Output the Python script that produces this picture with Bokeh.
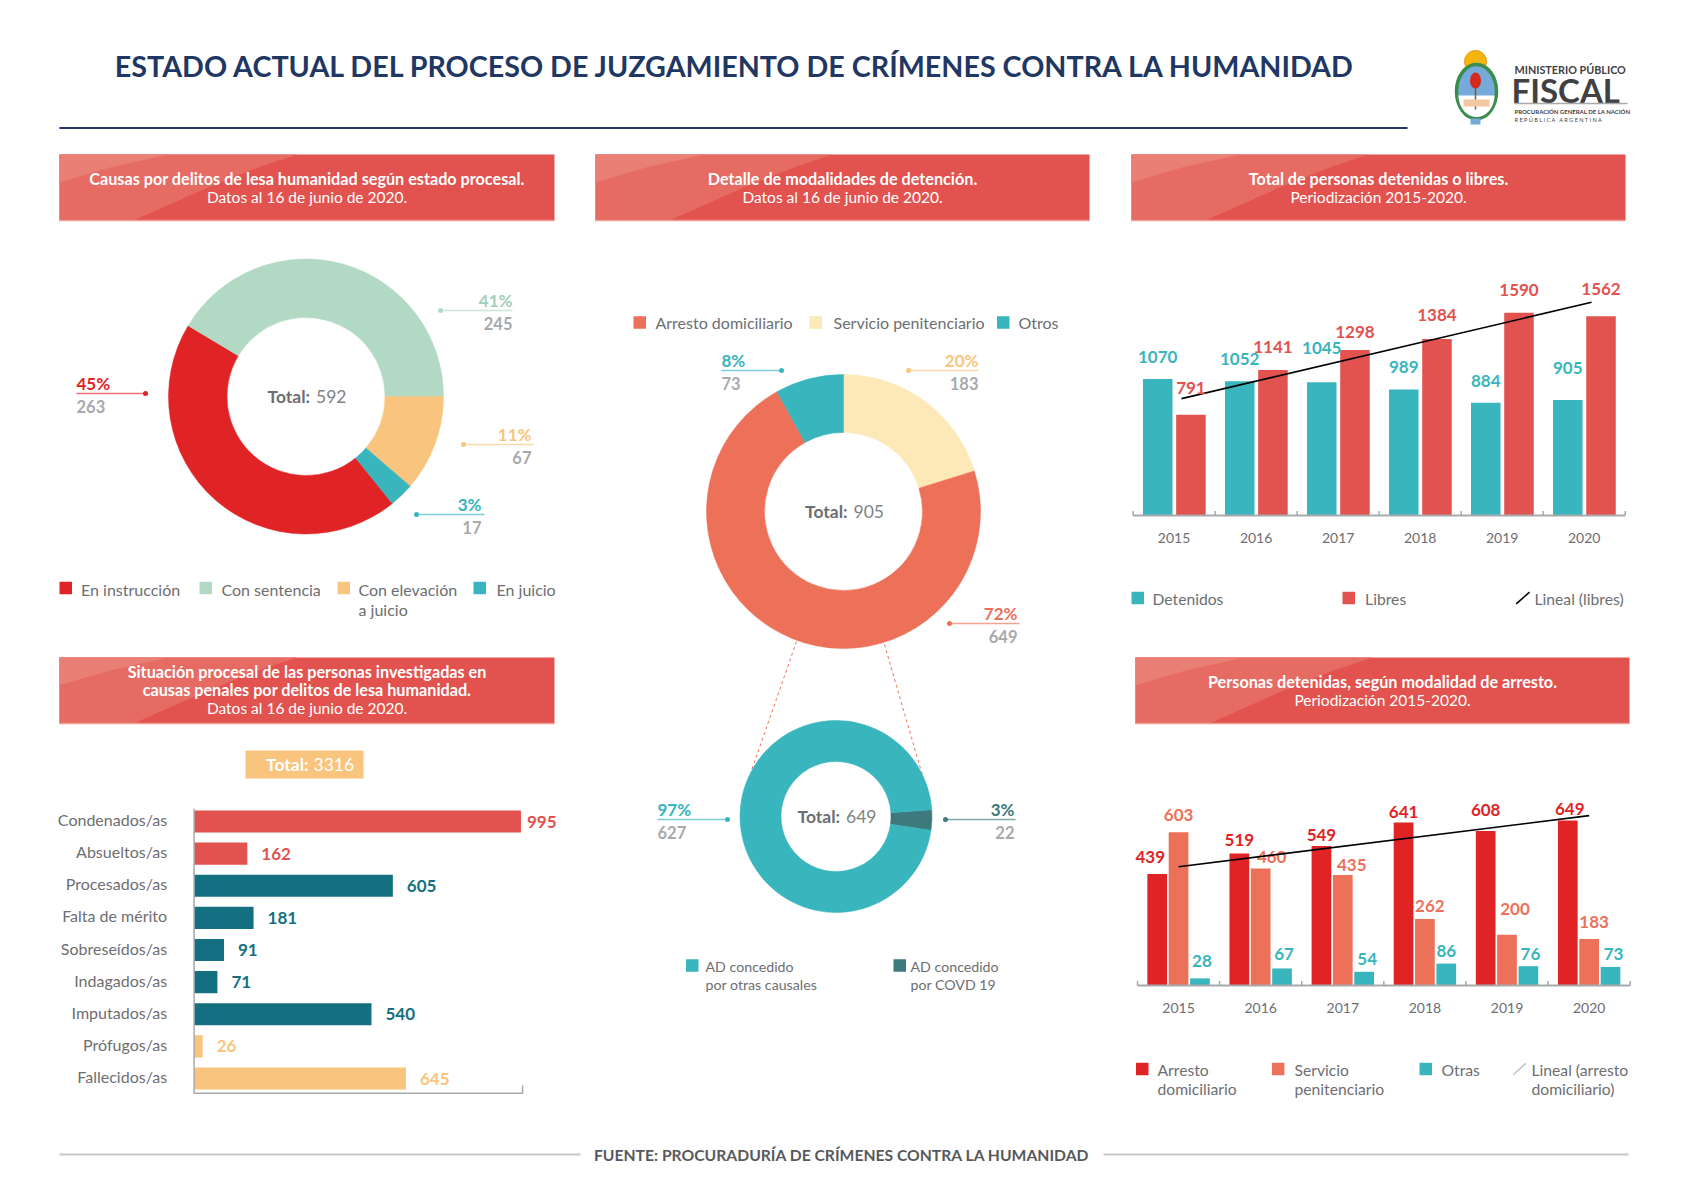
import numpy as np
from bokeh.plotting import figure
from bokeh.models import Range1d
from bokeh.core.properties import value
from bokeh.embed import file_html
from bokeh.resources import INLINE

# ------------------------------------------------------------------ data
title_text = "ESTADO ACTUAL DEL PROCESO DE JUZGAMIENTO DE CRÍMENES CONTRA LA HUMANIDAD"
source_text = "FUENTE: PROCURADURÍA DE CRÍMENES CONTRA LA HUMANIDAD"

causas_labels = ["En instrucción", "Con sentencia", "Con elevación\na juicio", "En juicio"]
causas_values = [263, 245, 67, 17]
causas_pct = ["45%", "41%", "11%", "3%"]

detencion_labels = ["Arresto domiciliario", "Servicio penitenciario", "Otros"]
detencion_values = [649, 183, 73]
detencion_pct = ["72%", "20%", "8%"]

ad_labels = ["AD concedido\npor otras causales", "AD concedido\npor COVD 19"]
ad_values = [627, 22]
ad_pct = ["97%", "3%"]

situacion_labels = ["Condenados/as", "Absueltos/as", "Procesados/as", "Falta de mérito",
                    "Sobreseídos/as", "Indagados/as", "Imputados/as", "Prófugos/as",
                    "Fallecidos/as"]
situacion_values = [995, 162, 605, 181, 91, 71, 540, 26, 645]

years = ["2015", "2016", "2017", "2018", "2019", "2020"]
detenidos = [1070, 1052, 1045, 989, 884, 905]
libres = [791, 1141, 1298, 1384, 1590, 1562]
tr_series = ["Detenidos", "Libres", "Lineal (libres)"]

arresto_dom = [439, 519, 549, 641, 608, 649]
servicio_pen = [603, 460, 435, 262, 200, 183]
otras = [28, 67, 54, 86, 76, 73]
br_series = ["Arresto\ndomiciliario", "Servicio\npenitenciario", "Otras", "Lineal (arresto\ndomiciliario)"]

# ------------------------------------------------------------------ styles
F = value("Lato")
NAVY = "#1f3763"
GRAY = "#6d6e71"
LGRAY = "#a7a9ac"
HEAD = "#e2524e"
RED = "#e02426"
GREEN = "#b1d9c4"
GREEN_T = "#9fcfb6"
ORANGE = "#f9c47d"
TEAL = "#38b5bd"
DTEAL = "#147080"
SALMON = "#ec7158"
CREAM = "#fde9b7"
COVD = "#3d797d"

# label placement nudges (screen px)
tr_det_dy = [-22, -22, -34, -22, -22, -32]
tr_lib_dy = [-27, -23, -18, -24, -23, -27]
br_dx = [[-7, 0, 0, 0, 0, 2], [0, 11, 9, 5, 8, 5], [2, 2, 3, 0, 2, 3]]
br_dy = [[-17, -14, -11, -11, -21, -12], [-17, -12, -10, -13, -26, -17],
         [-17, -14, -13, -13, -12, -13]]

W, H = 1668, 1174
p = figure(width=W, height=H, x_range=Range1d(0, W), y_range=Range1d(H, 0),
           output_backend="svg", toolbar_location=None, min_border=0,
           x_axis_location=None, y_axis_location=None)
p.grid.grid_line_color = None
p.outline_line_color = None
p.background_fill_color = "white"
p.border_fill_color = "white"


def _l(v):
    return list(v) if isinstance(v, (list, tuple, np.ndarray)) else [v]


def T(api, x, y, text, size, color, bold=False, align="left", baseline="middle",
      xo=0, yo=0, lh=1.1):
    xs, ys, ts = _l(x), _l(y), _l(text)
    n = max(len(xs), len(ys), len(ts))
    xs = xs * n if len(xs) == 1 else xs
    ys = ys * n if len(ys) == 1 else ys
    ts = ts * n if len(ts) == 1 else ts
    cols = _l(color)
    cols = cols * n if len(cols) == 1 else cols
    xo_, yo_ = _l(xo), _l(yo)
    xo_ = xo_ * n if len(xo_) == 1 else xo_
    yo_ = yo_ * n if len(yo_) == 1 else yo_
    api.text(x=xs, y=ys, text=ts, text_font=F, text_font_size=f"{size}px",
             text_color=cols, text_font_style="bold" if bold else "normal",
             text_align=align, text_baseline=baseline, x_offset=xo_, y_offset=yo_,
             text_line_height=lh)


def header(l, t, r, b, lines):
    w, h = r - l, b - t
    p.quad(left=[l], right=[r], top=[t], bottom=[b], fill_color=HEAD, line_color=None)
    p.patch(x=[l, l + 0.48 * w, l + 0.40 * w, l + 0.30 * w, l + 0.21 * w, l + 0.15 * w, l],
            y=[t, t, t + 0.2 * h, t + 0.5 * h, t + 0.8 * h, b, b],
            fill_color="#e66b62", line_color=None)
    p.patch(x=[l, l + 0.22 * w, l + 0.1 * w, l], y=[t, t, t + 0.2 * h, t + 0.42 * h],
            fill_color="#ea847b", fill_alpha=0.8, line_color=None)
    p.line(x=[l, r], y=[b, b], line_color="#ee9c94", line_width=1.5)
    cx = (l + r) / 2
    for s, bold, y in lines:
        T(p, cx, y, s, 16.2 if bold else 15.5, "white", bold, "center")


def square(x, yc, color, s=12.5):
    p.quad(left=[x], right=[x + s], top=[yc - s / 2], bottom=[yc + s / 2],
           fill_color=color, line_color=None)


def donut(cx, cy, R, r_in, values, colors, theta0):
    sub = p.subplot(x_source=Range1d(-1, 1), y_source=Range1d(-1, 1),
                    x_target=Range1d(cx - R, cx + R), y_target=Range1d(cy + R, cy - R))
    v = np.asarray(values, dtype=float)
    frac = v / v.sum()
    ends = theta0 - np.cumsum(frac) * 2 * np.pi
    starts = ends + frac * 2 * np.pi
    n = len(v)
    sub.annular_wedge(x=[0] * n, y=[0] * n, inner_radius=r_in / R, outer_radius=1.0,
                      start_angle=list(starts), end_angle=list(ends), direction="clock",
                      fill_color=list(colors), line_color=list(colors), line_width=0.5)
    T(p, cx + 4, cy, "Total:", 17.5, GRAY, True, "right")
    T(p, cx + 10, cy, str(int(v.sum())), 17.5, "#808285", False, "left")
    return sub


def callout(pct, num, color, tx, ly, align, lx0, lx1, dotx, tcolor=None):
    tc = tcolor or color
    T(p, tx, ly - 10, pct, 17, tc, True, align)
    p.line([lx0, lx1], [ly, ly], line_color=color, line_alpha=0.65, line_width=1.3)
    p.scatter([dotx], [ly], size=5, fill_color=color, line_color=None)
    T(p, tx, ly + 13, num, 16.5, LGRAY, True, align)


# ------------------------------------------------------------------ title + logo
T(p, 736, 65, title_text, 28.7, NAVY, True, "center")
p.line([59, 1407], [127.5, 127.5], line_color=NAVY, line_width=2)

lx, ly = 1476, 91
p.scatter([lx - 1], [61], marker="circle", size=22, fill_color="#f6b40e",
          line_color="#e09a10", line_width=1)
p.ellipse([lx], [ly], width=40, height=54, fill_color="#75aadb", line_color="#3a8d4a",
          line_width=3.5)
tt = np.linspace(0, np.pi, 30)
p.patch(list(lx + 18 * np.cos(tt)), list(ly + 4 + 21.5 * np.sin(tt)), fill_color="white",
        line_color=None)
p.line([lx - 1, lx - 1], [ly - 8, ly + 18], line_color="#8b5a2b", line_width=1.5)
p.ellipse([lx - 1], [ly - 11], width=11, height=16, fill_color="#d52b1e", line_color=None)
p.quad(left=[lx - 13], right=[lx + 13], top=[ly + 8], bottom=[ly + 15],
       fill_color="#f3c9a2", line_color=None)
p.quad(left=[lx - 6], right=[lx + 4], top=[ly + 27], bottom=[ly + 33],
       fill_color="#75aadb", line_color=None)
T(p, 1514, 69, "MINISTERIO PÚBLICO", 10.8, "#414042", True)
T(p, 1511, 89, "FISCAL", 33, "#414042", True)
p.line([1514, 1627], [103, 103], line_color=LGRAY, line_width=1.5)
T(p, 1514, 111, "PROCURACIÓN GENERAL DE LA NACIÓN", 6, "#414042", True)
T(p, 1514, 119, "\u00a0".join("REPÚBLICA") + "\u00a0\u00a0\u00a0" + "\u00a0".join("ARGENTINA"),
  5.6, "#414042", False)

# ------------------------------------------------------------------ headers
header(59, 154, 554, 220, [("Causas por delitos de lesa humanidad según estado procesal.", True, 178),
                           ("Datos al 16 de junio de 2020.", False, 196)])
header(595, 154, 1089, 220, [("Detalle de modalidades de detención.", True, 178),
                             ("Datos al 16 de junio de 2020.", False, 196)])
header(1131, 154, 1625, 220, [("Total de personas detenidas o libres.", True, 178),
                              ("Periodización 2015-2020.", False, 196)])
header(59, 657, 554, 723, [("Situación procesal de las personas investigadas en", True, 671),
                           ("causas penales por delitos de lesa humanidad.", True, 689),
                           ("Datos al 16 de junio de 2020.", False, 707)])
header(1135, 657, 1629, 723, [("Personas detenidas, según modalidad de arresto.", True, 681),
                              ("Periodización 2015-2020.", False, 699)])

# ------------------------------------------------------------------ donut 1 (causas)
c1_colors = [RED, GREEN, ORANGE, TEAL]
f1 = np.asarray(causas_values, float) / sum(causas_values)
donut(305.5, 396, 137.5, 79, causas_values, c1_colors, 2 * np.pi * (f1[0] + f1[1]))
callout(causas_pct[0], str(causas_values[0]), RED, 76, 393, "left", 76, 145, 145)
callout(causas_pct[1], str(causas_values[1]), GREEN, 512, 310, "right", 440, 512, 440, GREEN_T)
callout(causas_pct[2], str(causas_values[2]), ORANGE, 531, 444, "right", 463, 533, 463)
callout(causas_pct[3], str(causas_values[3]), TEAL, 481, 514, "right", 416, 484, 416)
for xs, xt, col, lab in zip([59, 199, 337, 473], [80.5, 221, 358, 496], c1_colors, causas_labels):
    square(xs, 587.5, col)
    T(p, xt, 579, lab, 16, GRAY, False, "left", "top")

# ------------------------------------------------------------------ donut 2 (detención)
c2_colors = [SALMON, CREAM, TEAL]
order2 = [1, 0, 2]
donut(843, 511, 137, 79, [detencion_values[i] for i in order2],
      [c2_colors[i] for i in order2], np.pi / 2)
callout(detencion_pct[0], str(detencion_values[0]), SALMON, 1017, 623, "right", 949, 1019, 949)
callout(detencion_pct[1], str(detencion_values[1]), ORANGE, 978, 370, "right", 908, 978, 908)
callout(detencion_pct[2], str(detencion_values[2]), TEAL, 721, 370, "left", 721, 781, 781)
for xs, xt, col, lab in zip([633, 809, 996.5], [655, 833, 1018], c2_colors, detencion_labels):
    square(xs, 322, col)
    T(p, xt, 322, lab, 16, GRAY, False, "left")

# connectors
p.line([796, 751], [641, 770], line_color=SALMON, line_dash="3 3", line_width=1)
p.line([884, 922], [644, 775], line_color=SALMON, line_dash="3 3", line_width=1)

# ------------------------------------------------------------------ donut 3 (AD)
c3_colors = [TEAL, COVD]
donut(835.5, 816, 96, 55, [ad_values[1], ad_values[0]], [c3_colors[1], c3_colors[0]],
      np.deg2rad(4.0))
callout(ad_pct[0], str(ad_values[0]), TEAL, 657, 819, "left", 657, 727, 727)
callout(ad_pct[1], str(ad_values[1]), COVD, 1014, 819, "right", 945, 1015, 945)
for xs, xt, col, lab in zip([685.5, 893], [705, 910], c3_colors, ad_labels):
    square(xs, 965, col)
    T(p, xt, 957, lab, 14.2, GRAY, False, "left", "top")

# ------------------------------------------------------------------ horizontal bars
hb_colors = [HEAD, HEAD, DTEAL, DTEAL, DTEAL, DTEAL, DTEAL, ORANGE, ORANGE]
p.quad(left=[245], right=[363], top=[750], bottom=[778], fill_color=ORANGE, line_color=None)
T(p, 308, 764, "Total:", 17.5, "white", True, "right")
T(p, 313, 764, str(sum(situacion_values)), 17.5, "white", False, "left")

hb = p.subplot(x_source=Range1d(0, 1000), y_source=Range1d(0, 8),
               x_target=Range1d(193.6, 193.6 + 328.5), y_target=Range1d(821, 1078))
idx = list(range(len(situacion_values)))
hb.hbar(y=idx, left=[0] * len(idx), right=situacion_values, height=0.69,
        fill_color=hb_colors, line_color=None)
hb.line(x=[0, 0, 1000, 1000], y=[-0.4, 8.46, 8.46, 8.22], line_color=LGRAY, line_width=1.5)
T(hb, situacion_values, idx, [str(v) for v in situacion_values], 17, hb_colors, True,
  "left", xo=[6] + [14] * 8)
T(hb, 0, idx, situacion_labels, 16, GRAY, False, "right", xo=-27, yo=-2)

# ------------------------------------------------------------------ top-right bars
n = len(years)
xc = np.arange(n) + 0.5
tr = p.subplot(x_source=Range1d(0, 6), y_source=Range1d(0, 1000),
               x_target=Range1d(1132.6, 1624.7), y_target=Range1d(515, 387.5))
tr.vbar(x=list(xc - 0.2), top=detenidos, width=0.36, fill_color=TEAL, line_color=None)
tr.vbar(x=list(xc + 0.205), top=libres, width=0.36, fill_color=HEAD, line_color=None)
tr.line(x=[0, 6], y=[0, 0], line_color=LGRAY, line_width=2)
tr.segment(x0=list(range(n + 1)), y0=[0] * (n + 1), x1=list(range(n + 1)), y1=[35] * (n + 1),
           line_color=LGRAY, line_width=1.5)
coef = np.polyfit(np.arange(n), libres, 1)
tr.line(x=[0.59, 5.59], y=list(np.polyval(coef, [0, n - 1])), line_color="black", line_width=1.6)
T(tr, list(xc), 0, years, 14, GRAY, False, "center", yo=22)
T(tr, list(xc - 0.2), detenidos, [str(v) for v in detenidos], 17, TEAL, True, "center",
  yo=tr_det_dy)
T(tr, list(xc + 0.205), libres, [str(v) for v in libres], 17, HEAD, True, "center",
  yo=tr_lib_dy)
square(1131, 597.5, TEAL)
T(p, 1152, 598, tr_series[0], 15.7, GRAY)
square(1342, 597.5, HEAD)
T(p, 1364.6, 598, tr_series[1], 15.7, GRAY)
p.line([1515.7, 1529], [603.3, 591.7], line_color="black", line_width=1.6)
T(p, 1534, 598, tr_series[2], 15.7, GRAY)

# ------------------------------------------------------------------ bottom-right bars
br = p.subplot(x_source=Range1d(0, 6), y_source=Range1d(0, 1000),
               x_target=Range1d(1137, 1629.7), y_target=Range1d(985, 985 - 254.2))
br_colors = [RED, SALMON, TEAL]
for k, (off, vals, col) in enumerate(zip([-0.26, 0.0, 0.26],
                                         [arresto_dom, servicio_pen, otras], br_colors)):
    br.vbar(x=list(xc + off), top=vals, width=0.24, fill_color=col, line_color=None)
    T(br, list(xc + off), vals, [str(v) for v in vals], 17, col, True, "center",
      xo=br_dx[k], yo=br_dy[k])
br.line(x=[0, 6], y=[0, 0], line_color=LGRAY, line_width=2)
br.segment(x0=list(range(n + 1)), y0=[0] * (n + 1), x1=list(range(n + 1)), y1=[18] * (n + 1),
           line_color=LGRAY, line_width=1.5)
coef2 = np.polyfit(np.arange(n), arresto_dom, 1)
br.line(x=[0.5, 5.5], y=list(np.polyval(coef2, [0, n - 1])), line_color="black", line_width=1.6)
T(br, list(xc), 0, years, 14, GRAY, False, "center", yo=22)
for xs, xt, col, lab in zip([1135.5, 1271.4, 1419], [1157, 1294, 1441], br_colors, br_series[:3]):
    square(xs, 1068.5, col)
    T(p, xt, 1060, lab, 15.7, GRAY, False, "left", "top")
p.line([1512.8, 1525.4], [1074.3, 1062.7], line_color="#bcbec0", line_width=1.4)
T(p, 1531, 1060, br_series[3], 15.7, GRAY, False, "left", "top")

# ------------------------------------------------------------------ footer
p.line([59, 580], [1154, 1154], line_color="#c7c8ca", line_width=2)
p.line([1103, 1628], [1154, 1154], line_color="#c7c8ca", line_width=2)
T(p, 841.5, 1154, source_text, 15.7, "#58595b", True, "center")

open("out.html", "w", encoding="utf-8").write(file_html(p, INLINE))
